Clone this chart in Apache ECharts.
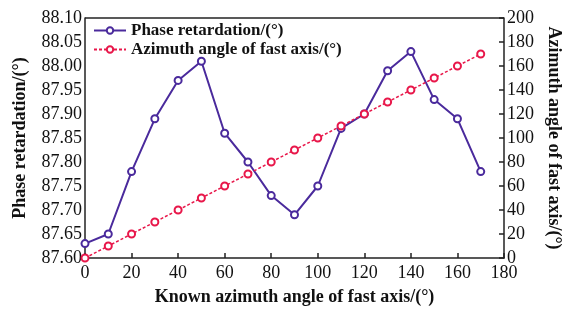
<!DOCTYPE html>
<html>
<head>
<meta charset="utf-8">
<script src="https://cdn.jsdelivr.net/npm/echarts@6/dist/echarts.min.js"></script>
<style>
html, body { margin: 0; padding: 0; background: #fff; }
#chart { width: 562px; height: 311px; }
</style>
</head>
<body>
<div id="chart"></div>
<script>
// known azimuth angle (x)
var angles = [0, 10, 20, 30, 40, 50, 60, 70, 80, 90, 100, 110, 120, 130, 140, 150, 160, 170];
// phase retardation, left axis
var retardation = [87.63, 87.65, 87.78, 87.89, 87.97, 88.01, 87.86, 87.80, 87.73, 87.69, 87.75, 87.87, 87.90, 87.99, 88.03, 87.93, 87.89, 87.78];
// measured azimuth of fast axis, right axis
var azimuth = [0, 10, 20, 30, 40, 50, 60, 70, 80, 90, 100, 110, 120, 130, 140, 150, 160, 170];

var purple = '#4a2a9c';
var red = '#e8174a';
var font = 'Liberation Serif';

function pairs(xs, ys) {
    return xs.map(function (x, i) { return [x, ys[i]]; });
}

var chart = echarts.init(document.getElementById('chart'));
var option = {
    animation: false,
    textStyle: { fontFamily: font, color: '#111' },
    grid: {
        left: 85,
        right: 58,
        top: 18,
        bottom: 53,
        outerBoundsMode: 'none'
    },
    legend: {
        orient: 'vertical',
        left: 88,
        top: 17,
        itemGap: 2,
        itemWidth: 32,
        itemHeight: 8,
        textStyle: { fontFamily: font, fontSize: 17, fontWeight: 'bold', color: '#111' },
        data: ['Phase retardation/(°)', 'Azimuth angle of fast axis/(°)']
    },
    xAxis: {
        type: 'value',
        min: 0,
        max: 180,
        interval: 20,
        name: 'Known azimuth angle of fast axis/(°)',
        nameLocation: 'middle',
        nameGap: 30,
        nameTextStyle: { fontFamily: font, fontSize: 18, fontWeight: 'bold', color: '#111' },
        axisLine: { onZero: false, lineStyle: { color: '#222', width: 1.5 } },
        axisTick: { inside: true, length: 5, lineStyle: { color: '#222', width: 1.5 } },
        axisLabel: { fontFamily: font, fontSize: 18, color: '#111', margin: 6 },
        splitLine: { show: false }
    },
    yAxis: [
        {
            type: 'value',
            min: 87.6,
            max: 88.1,
            interval: 0.05,
            name: 'Phase retardation/(°)',
            nameLocation: 'middle',
            nameRotate: 90,
            nameGap: 56,
            nameTextStyle: { fontFamily: font, fontSize: 18, fontWeight: 'bold', color: '#111' },
            axisLine: { show: true, lineStyle: { color: '#222', width: 1.5 } },
            axisTick: { show: false },
            axisLabel: {
                fontFamily: font, fontSize: 18, color: '#111', margin: 3,
                formatter: function (v) { return v.toFixed(2); }
            },
            splitLine: { show: false }
        },
        {
            type: 'value',
            min: 0,
            max: 200,
            interval: 20,
            name: 'Azimuth angle of fast axis/(°)',
            nameLocation: 'middle',
            nameRotate: -90,
            nameGap: 41,
            nameTextStyle: { fontFamily: font, fontSize: 18, fontWeight: 'bold', color: '#111' },
            axisLine: { show: true, lineStyle: { color: '#222', width: 1.5 } },
            axisTick: { inside: true, length: 5, lineStyle: { color: '#222', width: 1.5 } },
            axisLabel: { fontFamily: font, fontSize: 18, color: '#111', margin: 3 },
            splitLine: { show: false }
        }
    ],
    series: [
        {
            name: 'Phase retardation/(°)',
            type: 'line',
            yAxisIndex: 0,
            data: pairs(angles, retardation),
            symbol: 'emptyCircle',
            symbolSize: 7,
            lineStyle: { color: purple, width: 2 },
            itemStyle: { color: purple, borderWidth: 1.5 }
        },
        {
            name: 'Azimuth angle of fast axis/(°)',
            type: 'line',
            yAxisIndex: 1,
            data: pairs(angles, azimuth),
            symbol: 'emptyCircle',
            symbolSize: 7,
            lineStyle: { color: red, width: 1.5, type: [3, 2] },
            itemStyle: { color: red, borderWidth: 1.5 }
        },
        {
            // top frame line
            type: 'line',
            xAxisIndex: 0,
            yAxisIndex: 1,
            data: [],
            markLine: {
                silent: true,
                symbol: 'none',
                label: { show: false },
                lineStyle: { color: '#222', width: 1.5, type: 'solid' },
                data: [{ yAxis: 200 }]
            }
        }
    ]
};
chart.setOption(option);
</script>
</body>
</html>
